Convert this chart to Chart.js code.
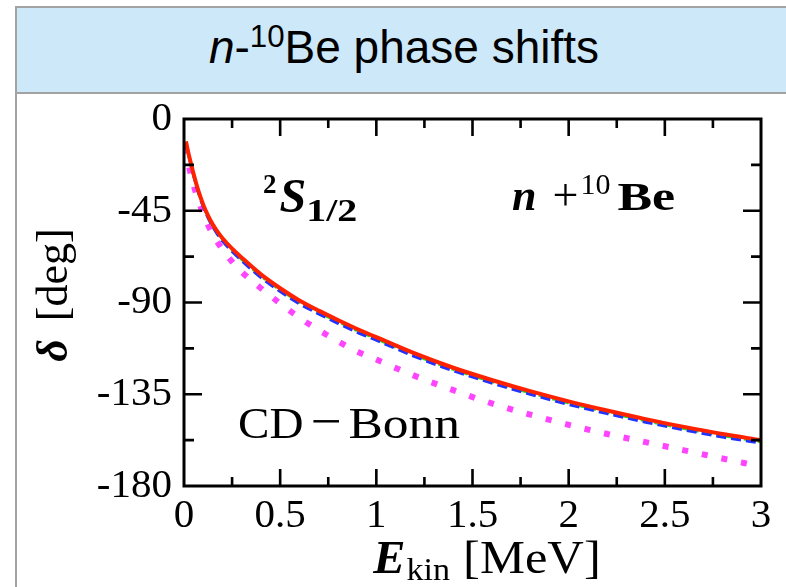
<!DOCTYPE html>
<html>
<head>
<meta charset="utf-8">
<script src="https://cdn.jsdelivr.net/npm/chart.js@4.4.1/dist/chart.umd.min.js"></script>
<style>
  html, body { margin: 0; padding: 0; width: 786px; height: 587px; overflow: hidden; background: #fff; }
  #panel { position: absolute; left: 15px; top: 6px; width: 820px; height: 640px;
           border: 2px solid #a3a3a3; box-sizing: border-box; }
  #head { position: absolute; left: 0; top: 0; right: 0; height: 84px;
          background: #cde8f9; border-bottom: 2px solid #a3a3a3; }
  #title { position: absolute; left: 0; width: 808px; top: 24px; text-align: center;
           font: 46px "Liberation Sans", Arial, sans-serif; line-height: 46px; color: #000; }
  #title sup { font-size: 0.68em; line-height: 0; vertical-align: 0.5em; }
  #plot { position: absolute; left: 0; top: 0; }
</style>
</head>
<body>
<div id="panel"><div id="head"></div></div>
<div id="title"><i>n</i>-<sup>10</sup>Be phase shifts</div>
<canvas id="plot" width="786" height="587"></canvas>
<script>
// Kinetic energy grid (MeV)
const energies = [0.01, 0.02, 0.03, 0.05, 0.075, 0.1, 0.125, 0.15, 0.175, 0.2, 0.25, 0.3, 0.4, 0.5, 0.6,
                  0.7, 0.8, 0.9, 1.0, 1.2, 1.4, 1.6, 1.8, 2.0, 2.2, 2.4, 2.6, 2.8, 3.0];

// 2S1/2 phase shifts (deg) for each calculation
const deltaSolid = [-11, -15.5, -19.5, -27, -35.3, -42, -47.4, -51.8, -55.4, -58.5, -63.6, -68, -76.2, -83, -89,
                    -94, -98.6, -103, -107, -115, -122, -128, -133.5, -138.5, -143, -147.2, -151, -154.5, -157.5];
const deltaDashed = [-11.5, -16, -20.2, -27.8, -36.2, -43, -48.5, -53, -56.7, -59.9, -65, -69.5, -77.8, -84.6, -90.6,
                     -95.6, -100.2, -104.6, -108.5, -116.5, -123.5, -129.5, -135, -140, -144.5, -148.7, -152.5, -156, -159];
const deltaDashDot = [-11.3, -15.8, -19.9, -27.4, -35.8, -42.5, -48, -52.4, -56, -59.2, -64.3, -68.8, -77, -83.8, -89.8,
                      -94.8, -99.4, -103.8, -107.8, -115.8, -122.8, -128.8, -134.3, -139.3, -143.8, -148, -151.8, -155.3, -158.3];
const deltaDotted = [-14, -20, -25, -32.5, -40, -46.5, -52, -56.5, -60.5, -64, -70, -75, -83, -90.5, -97.5,
                     -103.5, -109, -114, -118, -126, -133, -139.5, -145, -150, -154.5, -158.5, -162.5, -166.5, -170.5];

// Axis ranges, tick spacing and tick labels
const xRange = [0, 3];
const yRange = [-180, 0];
const xTickStep = 0.5;
const yTickStep = 45;
const xTickLabels = ['0', '0.5', '1', '1.5', '2', '2.5', '3'];
const yTickLabels = ['-180', '-135', '-90', '-45', '0'];

const pts = ys => energies.map((e, i) => ({ x: e, y: ys[i] }));

const serif = '"Liberation Serif", "Times New Roman", serif';

// Draw a sequence of text runs with their own fonts, baseline shifts and widths
function drawRuns(ctx, x, y, runs) {
  let cx = x;
  for (const r of runs) {
    ctx.font = r.font;
    if (r.gap) cx += r.gap;
    const sx = r.sx || 1;
    ctx.save();
    ctx.translate(cx, y + (r.dy || 0));
    ctx.scale(sx, 1);
    ctx.fillText(r.text, 0, 0);
    ctx.restore();
    cx += ctx.measureText(r.text).width * sx;
  }
  return cx;
}
function runsWidth(ctx, runs) {
  let w = 0;
  for (const r of runs) { ctx.font = r.font; w += (r.gap || 0) + ctx.measureText(r.text).width * (r.sx || 1); }
  return w;
}

// Closed frame with inward ticks on all four sides
const frameTicks = {
  id: 'frameTicks',
  afterDatasetsDraw(chart) {
    const { ctx, chartArea: a, scales: { x, y } } = chart;
    ctx.save();
    ctx.strokeStyle = '#000';
    ctx.lineWidth = 2.6;
    ctx.beginPath();
    const xMinor = xTickStep / 2;
    for (let v = xRange[0] + xMinor; v < xRange[1] - 1e-9; v += xMinor) {
      const px = x.getPixelForValue(v);
      const major = Math.abs(v / xTickStep - Math.round(v / xTickStep)) < 1e-6;
      const len = major ? 17 : 9;
      ctx.moveTo(px, a.bottom); ctx.lineTo(px, a.bottom - len);
      ctx.moveTo(px, a.top); ctx.lineTo(px, a.top + len);
    }
    const yMinor = yTickStep / 2;
    for (let v = yRange[0] + yMinor; v < yRange[1] - 1e-9; v += yMinor) {
      const py = y.getPixelForValue(v);
      const major = Math.abs(v / yTickStep - Math.round(v / yTickStep)) < 1e-6;
      const len = major ? 18 : 10;
      ctx.moveTo(a.left, py); ctx.lineTo(a.left + len, py);
      ctx.moveTo(a.right, py); ctx.lineTo(a.right - len, py);
    }
    ctx.stroke();
    ctx.lineWidth = 3;
    ctx.strokeRect(a.left, a.top, a.right - a.left, a.bottom - a.top);
    ctx.restore();
  },
  afterDraw(chart) {
    const { ctx } = chart;
    ctx.save();
    ctx.fillStyle = '#000';
    ctx.textBaseline = 'alphabetic';
    ctx.textAlign = 'left';

    // partial-wave label
    drawRuns(ctx, 263, 212, [
      { text: '2', font: 'bold 27px ' + serif, dy: -19 },
      { text: 'S', font: 'italic bold 48px ' + serif, gap: 3 },
      { text: '1/2', font: 'bold 32px ' + serif, dy: 9, sx: 1.25 }
    ]);

    // system label
    drawRuns(ctx, 512, 210, [
      { text: 'n', font: 'italic bold 44px ' + serif },
      { text: '+', font: '46px ' + serif, gap: 16 },
      { text: '10', font: '30px ' + serif, dy: -16, gap: 2 },
      { text: 'Be', font: 'bold 40px ' + serif, gap: 7, sx: 1.3 }
    ]);

    // potential label
    drawRuns(ctx, 238, 438, [
      { text: 'CD', font: '44px ' + serif, sx: 1.07 },
      { text: '\u2212', font: '50px ' + serif, gap: 7, sx: 1.1 },
      { text: 'Bonn', font: '44px ' + serif, gap: 7, sx: 1.17 }
    ]);

    // x-axis title
    const xt = [
      { text: 'E', font: 'italic bold 46px ' + serif, sx: 1.05 },
      { text: 'kin', font: '31px ' + serif, dy: 7, gap: 1, sx: 1.1 },
      { text: '[MeV]', font: '46px ' + serif, gap: 13, sx: 1.1 }
    ];
    drawRuns(ctx, 487 - runsWidth(ctx, xt) / 2, 573, xt);

    // y-axis title
    const yt = [
      { text: '\u03b4', font: 'italic bold 44px ' + serif },
      { text: '[deg]', font: '44px ' + serif, gap: 18 }
    ];
    ctx.translate(67, 295);
    ctx.rotate(-Math.PI / 2);
    drawRuns(ctx, -runsWidth(ctx, yt) / 2, 0, yt);
    ctx.restore();
  }
};

const tickText = (labels, step, start) => v => {
  const i = Math.round((v - start) / step);
  return labels[i] !== undefined ? labels[i] : '';
};

new Chart(document.getElementById('plot'), {
  type: 'line',
  data: {
    datasets: [
      { data: pts(deltaSolid), borderColor: '#ff2200', borderWidth: 4 },
      { data: pts(deltaDashed), borderColor: '#2233ff', borderWidth: 3, borderDash: [10, 5] },
      { data: pts(deltaDashDot), borderColor: '#22dd22', borderWidth: 3, borderDash: [10, 4, 3, 4] },
      { data: pts(deltaDotted), borderColor: '#ff44ff', borderWidth: 6, borderDash: [6, 14] }
    ]
  },
  options: {
    responsive: false,
    animation: false,
    devicePixelRatio: 1,
    parsing: false,
    elements: {
      point: { radius: 0 },
      line: { cubicInterpolationMode: 'monotone', fill: false, borderCapStyle: 'butt' }
    },
    layout: { padding: { left: 0, top: 119, right: 25, bottom: 0 } },
    plugins: { legend: { display: false }, tooltip: { enabled: false }, title: { display: false } },
    scales: {
      x: {
        type: 'linear', min: xRange[0], max: xRange[1],
        grid: { display: false, drawTicks: false },
        border: { display: false },
        ticks: { stepSize: xTickStep, color: '#000', padding: 6, maxRotation: 0, autoSkip: false,
                 font: { family: serif, size: 41 },
                 callback: tickText(xTickLabels, xTickStep, xRange[0]) },
        afterFit(s) { s.height = 101; }
      },
      y: {
        type: 'linear', min: yRange[0], max: yRange[1],
        grid: { display: false, drawTicks: false },
        border: { display: false },
        ticks: { stepSize: yTickStep, color: '#000', padding: 12,
                 font: { family: serif, size: 41 },
                 callback: tickText(yTickLabels, yTickStep, yRange[0]) },
        afterFit(s) { s.width = 184; }
      }
    }
  },
  plugins: [frameTicks]
});
</script>
</body>
</html>
